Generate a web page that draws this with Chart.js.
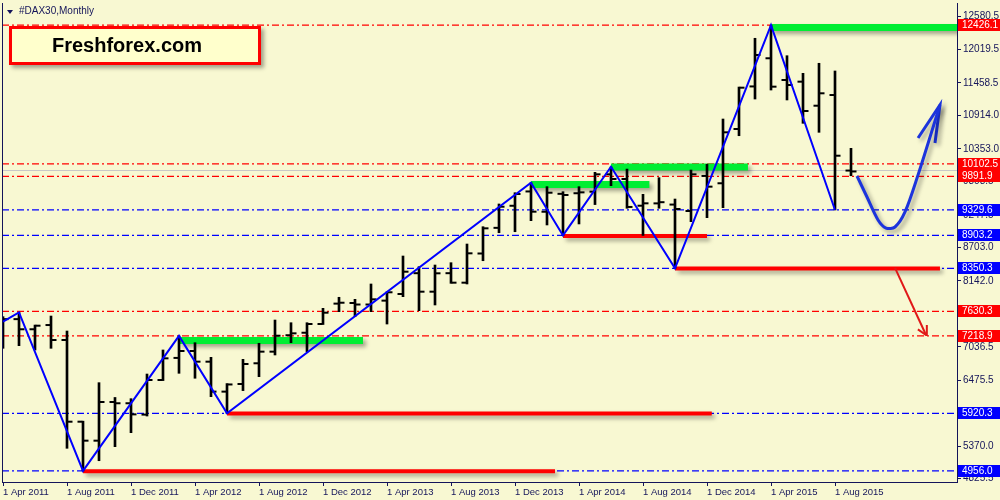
<!DOCTYPE html>
<html>
<head>
<meta charset="utf-8">
<title>#DAX30,Monthly</title>
<script src="https://cdn.jsdelivr.net/npm/chart.js@4.4.0/dist/chart.umd.min.js"></script>
<style>
  html, body { margin: 0; padding: 0; background: #f8f8d2; }
  #wrap { position: relative; width: 1000px; height: 500px; overflow: hidden; background: #f8f8d2; }
  #chart { position: absolute; left: 0; top: 0; }
  .title { position: absolute; left: 19px; top: 5px; font: 10px "Liberation Sans", Arial, sans-serif; color: #14145a; }
  .tri { position: absolute; left: 7px; top: 10px; width: 0; height: 0;
         border-left: 3px solid transparent; border-right: 3px solid transparent; border-top: 4px solid #14145a; }
  .logo { position: absolute; left: 9px; top: 26px; width: 252px; height: 39px; box-sizing: border-box;
          border: 3px solid #ff0000; background: #ffffcc; box-shadow: 3px 3px 4px rgba(0,0,0,0.35);
          font: bold 20px "Liberation Sans", Arial, sans-serif; color: #000; line-height: 33px; padding-left: 40px; }
</style>
</head>
<body>
<div id="wrap">
  <canvas id="chart" width="1000" height="500"></canvas>
  <div class="tri"></div>
  <div class="title">#DAX30,Monthly</div>
  <div class="logo">Freshforex.com</div>
</div>
<script>
// monthly bars, Apr 2011 .. Sep 2015 (index 0..53)
var opens  = [7041,7500,7330,7401,7150,5781,5463,6111,6090,5900,6480,6850,6966,6787,6285,6413,6760,6955,7230,7272,
              7418,7760,7770,7745,7810,7921,8270,7960,8270,8111,8600,9030,9400,9640,9300,9600,9610,9636,9927,9849,
              9401,9440,9420,9312,9900,9777,10687,11400,11872,11508,11480,11077,11256,9990];
var highs  = [7541,7614,7401,7552,7301,5790,6435,6187,6167,6580,6983,7219,7105,6860,6420,6826,7095,7485,7440,7440,
              7681,7866,7832,8089,7960,8558,8379,8407,8446,8759,9049,9430,9619,9787,9720,9636,9720,9960,10050,10015,
              9592,9871,9513,9999,10094,10854,11390,12207,12426.1,11915,11620,11788,11659,10363];
var lows   = [7011,7055,6983,7011,5335,4956,5127,5362,5597,5876,6470,6592,6509,6200,5920.3,6302,6536,6899,7105,6955,
              7410,7625,7541,7625,7418,7876,7642,7737,8100,8089,8479,8948,8965,9150,9078,8903.2,9095,9420,9737,9358,
              8903.2,9358,8350.3,9133,9200,9368,10574,11189,11340,11173,10782,10631,9329.6,9903];
var closes = [7500,7330,7390,7150,5781,5463,6111,6090,5904,6480,6843,6966,6787,6285,6405,6748,6955,7222,7262,7418,
              7608,7775,7745,7832,7950,8295,7960,8268,8111,8603,9022,9384,9597,9301,9619,9580,9625,9927,9849,9380,
              9441,9460,9346,9927,9720,10631,11379,11927,11396,11424,10988,11285,10239,9975];

var xTickIndex  = [0,4,8,12,16,20,24,28,32,36,40,44,48,52];
var xTickLabels = ['1 Apr 2011','1 Aug 2011','1 Dec 2011','1 Apr 2012','1 Aug 2012','1 Dec 2012','1 Apr 2013',
                   '1 Aug 2013','1 Dec 2013','1 Apr 2014','1 Aug 2014','1 Dec 2014','1 Apr 2015','1 Aug 2015'];
var yTicks = [12580.5,12019.5,11458.5,10914.0,10353.0,9808.5,9247.5,8703.0,8142.0,7597.5,7036.5,6475.5,5931.0,5370.0,4825.5];

// horizontal levels with price tags
var levelValues = [12426.1,10102.5,9891.9,9329.6,8903.2,8350.3,7630.3,7218.9,5920.3,4956.0];
var levelColors = ['#ff0000','#ff0000','#ff0000','#0000ff','#0000ff','#0000ff','#ff0000','#ff0000','#0000ff','#0000ff'];
var bidPrice = 9991;

// zigzag swing points
var zigzagIdx = [0,1,5,11,14,33,35,38,42,48,52];
var zigzagVal = [7457,7614,4956,7219,5920.3,9787,8903.2,10055,8350.3,12426.1,9329.6];

// support (red) and resistance (green) segments
var supportFrom = [5,14,35,42];
var supportTo   = [34.5,44.3,44,58.56];
var supportVal  = [4950,5918,8893,8349];
var resistFrom  = [11,33,38,48];
var resistTo    = [22.5,40.4,46.56,59.7];
var resistVal   = [7142,9756,10050,12388];

// forecast arrows
var forecastIdx = [53.375,54.0,54.69,55.19,55.75,56.375,57.19,57.94,58.56];
var forecastVal = [9899,9547,9162,9027,9044,9296,9916,10553,11089];
var forecastHeadIdx = [57.19,58.56,58.25];
var forecastHeadVal = [10536,11089,10452];
var downIdx = [55.75,57.69];
var downVal = [8358,7234];
var downHeadIdx = [57.18,57.69,57.74];
var downHeadVal = [7328,7234,7402];

var X_MIN = -0.0625, X_MAX = 59.625;
var FONT = "'Liberation Sans', Arial, sans-serif";
var NAVY = '#14145a';

function pts(xs, ys) { return xs.map(function(x, i) { return {x: x, y: ys[i]}; }); }

var datasets = [];

// dash-dot levels
levelValues.forEach(function(v, i) {
  datasets.push({ type: 'line', data: [{x: X_MIN, y: v}, {x: X_MAX, y: v}], borderColor: levelColors[i],
    borderWidth: 1.2, borderDash: [7,3,2,3], pointRadius: 0, order: 20 });
});
datasets.push({ type: 'line', data: [{x: X_MIN, y: bidPrice}, {x: X_MAX, y: bidPrice}], borderColor: '#c8c8c8',
  borderWidth: 1, pointRadius: 0, order: 21 });

supportVal.forEach(function(v, i) {
  datasets.push({ type: 'line', data: [{x: supportFrom[i], y: v}, {x: supportTo[i], y: v}], borderColor: '#ff0000',
    borderWidth: 4, pointRadius: 0, shadow: true, order: 12 });
});
resistVal.forEach(function(v, i) {
  datasets.push({ type: 'line', data: [{x: resistFrom[i], y: v}, {x: resistTo[i], y: v}], borderColor: '#00ee33',
    borderWidth: 7, pointRadius: 0, shadow: true, order: 12 });
});

// OHLC bars
datasets.push({ type: 'bar', data: highs.map(function(h, i) { return {x: i, y: [lows[i], h]}; }),
  backgroundColor: '#000', borderWidth: 0, barThickness: 2, order: 6 });
datasets.push({ type: 'line', showLine: false, data: opens.map(function(o, i) { return {x: i - 0.1875, y: o}; }),
  pointStyle: 'line', pointRadius: 2.5, pointBorderWidth: 2, pointBorderColor: '#000', order: 5 });
datasets.push({ type: 'line', showLine: false, data: closes.map(function(c, i) { return {x: i + 0.1875, y: c}; }),
  pointStyle: 'line', pointRadius: 2.5, pointBorderWidth: 2, pointBorderColor: '#000', order: 5 });

// zigzag
datasets.push({ type: 'line', data: pts(zigzagIdx, zigzagVal), borderColor: '#0000ff', borderWidth: 2,
  pointRadius: 0, order: 3 });

// arrows
datasets.push({ type: 'line', data: pts(downIdx, downVal), borderColor: '#e01818', borderWidth: 2, pointRadius: 0, order: 2 });
datasets.push({ type: 'line', data: pts(downHeadIdx, downHeadVal), borderColor: '#e01818', borderWidth: 2, pointRadius: 0, order: 2 });
datasets.push({ type: 'line', data: pts(forecastIdx, forecastVal), borderColor: '#1c34dc', borderWidth: 3,
  tension: 0.3, pointRadius: 0, shadow: true, order: 2 });
datasets.push({ type: 'line', data: pts(forecastHeadIdx, forecastHeadVal), borderColor: '#1c34dc', borderWidth: 3,
  pointRadius: 0, shadow: true, order: 2 });

// drop shadow under the drawn objects
var shadowPlugin = {
  id: 'shadow',
  beforeDatasetDraw: function(chart, args) {
    var ds = chart.data.datasets[args.index];
    var ctx = chart.ctx;
    ctx.save();
    if (ds.shadow) {
      ctx.shadowColor = 'rgba(0,0,0,0.35)';
      ctx.shadowBlur = 4;
      ctx.shadowOffsetX = 3;
      ctx.shadowOffsetY = 3;
    }
  },
  afterDatasetDraw: function(chart) {
    chart.ctx.restore();
  }
};

var tagPlugin = {
  id: 'tags',
  afterDraw: function(chart) {
    var ctx = chart.ctx, area = chart.chartArea, ys = chart.scales.y;
    ctx.save();
    // left frame line
    ctx.strokeStyle = NAVY;
    ctx.lineWidth = 1;
    ctx.beginPath();
    ctx.moveTo(area.left + 0.5, area.top);
    ctx.lineTo(area.left + 0.5, area.bottom);
    ctx.stroke();
    ctx.font = '10px ' + FONT;
    ctx.textBaseline = 'middle';
    ctx.textAlign = 'left';
    levelValues.forEach(function(v, i) {
      var y = Math.round(ys.getPixelForValue(v));
      ctx.fillStyle = levelColors[i];
      ctx.fillRect(area.right + 1, y - 6, 1000 - area.right - 1, 12);
      ctx.fillStyle = '#fff';
      ctx.fillText(v.toFixed(1), area.right + 5, y + 0.5);
    });
    ctx.restore();
  }
};

new Chart(document.getElementById('chart'), {
  type: 'line',
  data: { datasets: datasets },
  options: {
    responsive: false,
    animation: false,
    events: [],
    devicePixelRatio: 1,
    layout: { autoPadding: false, padding: { left: 2, top: 3, right: 0, bottom: 0 } },
    plugins: { legend: { display: false }, tooltip: { enabled: false } },
    scales: {
      x: {
        type: 'linear', position: 'bottom', min: X_MIN, max: X_MAX, offset: false,
        grid: { drawOnChartArea: false, drawTicks: true, tickLength: 4, tickColor: NAVY, offset: false },
        border: { display: true, color: NAVY, width: 1 },
        ticks: { autoSkip: false, maxRotation: 0, minRotation: 0, align: 'start', padding: 1, color: NAVY,
          font: { family: FONT, size: 9.5 },
          callback: function(v) { var i = xTickIndex.indexOf(v); return i >= 0 ? xTickLabels[i] : ''; } },
        afterBuildTicks: function(s) { s.ticks = xTickIndex.map(function(v) { return {value: v}; }); },
        afterFit: function(s) { s.height = 18; s.paddingLeft = 0; s.paddingRight = 0; }
      },
      y: {
        type: 'linear', position: 'right', min: 4770.3, max: 12798.4,
        grid: { drawOnChartArea: false, drawTicks: true, tickLength: 4, tickColor: NAVY },
        border: { display: true, color: NAVY, width: 1 },
        ticks: { autoSkip: false, padding: 2, color: NAVY, font: { family: FONT, size: 10 },
          callback: function(v) { return Number(v).toFixed(1); } },
        afterBuildTicks: function(s) { s.ticks = yTicks.map(function(v) { return {value: v}; }); },
        afterFit: function(s) { s.width = 43; s.paddingTop = 0; s.paddingBottom = 0; }
      }
    }
  },
  plugins: [shadowPlugin, tagPlugin]
});
</script>
</body>
</html>
